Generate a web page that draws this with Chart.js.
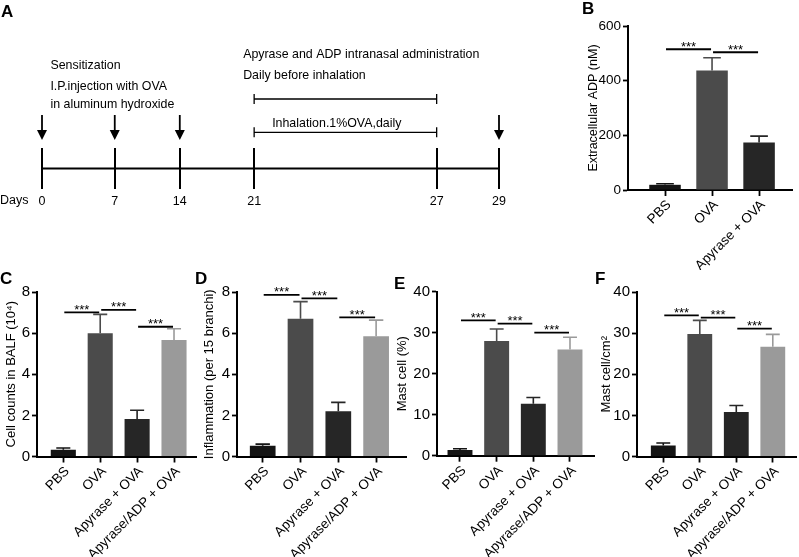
<!DOCTYPE html>
<html><head><meta charset="utf-8">
<script src="https://cdn.jsdelivr.net/npm/chart.js@4.4.1/dist/chart.umd.min.js"></script>
<style>
html,body{margin:0;padding:0;background:#fff;}
body{width:799px;height:557px;position:relative;overflow:hidden;font-family:"Liberation Sans",Arial,sans-serif;}
canvas{position:absolute;}
.lbl{position:absolute;font:bold 17px/17px "Liberation Sans",Arial,sans-serif;color:#000;}
</style></head><body>
<canvas id="cA" width="560" height="260" style="left:0;top:0"></canvas>
<canvas id="cB" width="217" height="270" style="left:582px;top:0"></canvas>
<canvas id="cC" width="197" height="289" style="left:0;top:268px"></canvas>
<canvas id="cD" width="209" height="289" style="left:198px;top:268px"></canvas>
<canvas id="cE" width="204" height="289" style="left:391px;top:268px"></canvas>
<canvas id="cF" width="202" height="289" style="left:595px;top:268px"></canvas>
<div class="lbl" style="left:1px;top:3px">A</div>
<div class="lbl" style="left:582px;top:0px">B</div>
<div class="lbl" style="left:0px;top:270px">C</div>
<div class="lbl" style="left:195px;top:270px">D</div>
<div class="lbl" style="left:394px;top:275px">E</div>
<div class="lbl" style="left:595px;top:270px">F</div>
<script>
// ---------------- data ----------------
const days = [0, 7, 14, 21, 27, 29];
const arrowDays = [0, 7, 14, 29];
const treatmentDays = [21, 27];

const groupsB = ['PBS', 'OVA', 'Apyrase + OVA'];
const adpMean = [19, 437, 174];
const adpSD = [4, 47, 23];

const groups = ['PBS', 'OVA', 'Apyrase + OVA', 'Apyrase/ADP + OVA'];
const balfMean = [0.33, 6.0, 1.82, 5.66];
const balfSD = [0.08, 0.91, 0.43, 0.55];
const inflMean = [0.52, 6.70, 2.20, 5.85];
const inflSD = [0.08, 0.83, 0.43, 0.78];
const mastPctMean = [1.4, 28.0, 12.7, 25.9];
const mastPctSD = [0.3, 2.9, 1.5, 3.0];
const mastDenMean = [2.7, 29.8, 10.8, 26.7];
const mastDenSD = [0.6, 3.3, 1.6, 3.0];

const sigPairsB = [[0, 1], [1, 2]];
const sigLevelsB = [515, 504];
const sigPairs = [[0, 1], [1, 2], [2, 3]];
const sigLevelsC = [7.01, 7.13, 6.31];
const sigLevelsD = [7.86, 7.69, 6.77];
const sigLevelsE = [33.0, 32.2, 30.0];
const sigLevelsF = [34.3, 33.75, 31.07];

// ---------------- styles ----------------
const FAM = '"Liberation Sans", Arial, sans-serif';
Chart.defaults.font.family = FAM;
Chart.defaults.color = '#000';
const colorsB = ['#141414', '#4b4b4b', '#262626'];
const colors4 = ['#141414', '#4b4b4b', '#262626', '#9a9a9a'];
// schematic (non-proportional) spacing of the timeline
const timelineFrac = [0, 0.1592, 0.3015, 0.4642, 0.8636, 1];

// ---------------- panel A: timeline ----------------
class PiecewiseScale extends Chart.LinearScale {
  static id = 'piecewise';
  static defaults = {};
  getPixelForValue(value) {
    let f;
    if (value <= days[0]) f = 0;
    else if (value >= days[days.length - 1]) f = 1;
    else {
      let i = 0;
      while (value > days[i + 1]) i++;
      const t = (value - days[i]) / (days[i + 1] - days[i]);
      f = timelineFrac[i] + t * (timelineFrac[i + 1] - timelineFrac[i]);
    }
    return this.getPixelForDecimal(f);
  }
  getValueForPixel(pixel) {
    const f = this.getDecimalForPixel(pixel);
    let i = 0;
    while (i < timelineFrac.length - 2 && f > timelineFrac[i + 1]) i++;
    const t = (f - timelineFrac[i]) / (timelineFrac[i + 1] - timelineFrac[i]);
    return days[i] + t * (days[i + 1] - days[i]);
  }
}
Chart.register(PiecewiseScale);

const timelinePlugin = {
  id: 'timelineDeco',
  afterDraw(chart) {
    const ctx = chart.ctx, xs = chart.scales.x, top = chart.chartArea.top;
    ctx.save();
    ctx.strokeStyle = '#000'; ctx.fillStyle = '#000';
    arrowDays.forEach(d => {
      const x = xs.getPixelForValue(d);
      const tip = top - 8;
      ctx.lineWidth = 1.8;
      ctx.beginPath(); ctx.moveTo(x, tip - 25); ctx.lineTo(x, tip - 6); ctx.stroke();
      ctx.beginPath(); ctx.moveTo(x - 5, tip - 10); ctx.lineTo(x + 5, tip - 10); ctx.lineTo(x, tip); ctx.closePath(); ctx.fill();
    });
    const x1 = xs.getPixelForValue(treatmentDays[0]), x2 = xs.getPixelForValue(treatmentDays[1]);
    ctx.lineWidth = 1.3;
    [top - 49, top - 15.7].forEach(y => {
      ctx.beginPath();
      ctx.moveTo(x1, y); ctx.lineTo(x2, y);
      ctx.moveTo(x1, y - 5); ctx.lineTo(x1, y + 5);
      ctx.moveTo(x2, y - 5); ctx.lineTo(x2, y + 5);
      ctx.stroke();
    });
    ctx.font = '12.4px ' + FAM; ctx.textBaseline = 'middle'; ctx.textAlign = 'left';
    const x0 = xs.getPixelForValue(days[0]);
    ctx.fillText('Sensitization', x0 + 8.4, 65.7);
    ctx.fillText('I.P.injection with OVA', x0 + 8.4, 86.7);
    ctx.fillText('in aluminum hydroxide', x0 + 8.4, 105);
    ctx.fillText('Apyrase and ADP intranasal administration', x1 - 11, 54.3);
    ctx.fillText('Daily before inhalation', x1 - 11, 75.3);
    ctx.fillText('Inhalation.1%OVA,daily', x1 + 18, 123.3);
    ctx.font = '12.5px ' + FAM;
    ctx.fillText('Days', 0, 200.5);
    ctx.restore();
  }
};

new Chart(document.getElementById('cA'), {
  type: 'line',
  data: { datasets: [{ data: days.map(d => ({ x: d, y: 0 })), borderColor: '#000', borderWidth: 2, pointRadius: 0 }] },
  options: {
    responsive: false, animation: false,
    layout: { padding: { left: 42, right: 61, top: 148, bottom: 0 } },
    plugins: { legend: { display: false }, tooltip: { enabled: false } },
    scales: {
      x: {
        type: 'piecewise', min: days[0], max: days[days.length - 1], offset: false,
        afterBuildTicks: s => { s.ticks = days.map(d => ({ value: d })); },
        afterFit: s => { s.height = 71; s.paddingLeft = 0; s.paddingRight = 0; },
        ticks: { callback: v => String(v), autoSkip: false, maxRotation: 0, minRotation: 0, font: { size: 12.5 }, color: '#000', padding: 5 },
        grid: { display: true, drawOnChartArea: true, drawTicks: false, color: '#000', lineWidth: 2 },
        border: { display: false }
      },
      y: { display: false, min: -1, max: 1 }
    }
  },
  plugins: [timelinePlugin]
});

// ---------------- bar panels ----------------
const errPlugin = {
  id: 'errbars',
  afterDatasetsDraw(chart) {
    const ctx = chart.ctx, ys = chart.scales.y;
    chart.data.datasets.forEach((ds, di) => {
      const meta = chart.getDatasetMeta(di);
      meta.data.forEach((bar, i) => {
        const v = ds.data[i].y, e = ds.sd[i];
        const yTop = ys.getPixelForValue(v + e);
        const cap = bar.width * 0.28;
        ctx.save();
        ctx.strokeStyle = ds.backgroundColor[i]; ctx.lineWidth = 1.6;
        ctx.beginPath();
        ctx.moveTo(bar.x, bar.y); ctx.lineTo(bar.x, yTop);
        ctx.moveTo(bar.x - cap, yTop); ctx.lineTo(bar.x + cap, yTop);
        ctx.stroke();
        ctx.restore();
      });
    });
  }
};

// nudges the rotated category labels so their ends sit just right of the tick
const labelNudge = {
  id: 'labelNudge',
  beforeDraw(chart) {
    const s = chart.scales.x;
    const items = s.getLabelItems(chart.chartArea);
    if (!items._nudged) {
      items.forEach(it => { it.options.translation[0] += 4; });
      items._nudged = true;
    }
  }
};

function makeSig(pairs, levels) {
  return {
    id: 'sig',
    afterDatasetsDraw(chart) {
      const xs = chart.scales.x, ys = chart.scales.y, ctx = chart.ctx;
      pairs.forEach(([a, b], k) => {
        const x1 = xs.getPixelForValue(a) + 1, x2 = xs.getPixelForValue(b) - 1, y = ys.getPixelForValue(levels[k]);
        ctx.save();
        ctx.strokeStyle = '#000'; ctx.lineWidth = 1.8;
        ctx.beginPath(); ctx.moveTo(x1, y); ctx.lineTo(x2, y); ctx.stroke();
        ctx.fillStyle = '#000'; ctx.font = '13px ' + FAM; ctx.textAlign = 'center'; ctx.textBaseline = 'alphabetic';
        ctx.fillText('***', (x1 + x2) / 2, y + 1.5);
        ctx.restore();
      });
    }
  };
}

function barPanel(id, c) {
  const yWidth = c.areaLeft - c.L, padTop = c.areaTop - c.T, xHeight = c.T + c.H - c.areaBottom, padRight = c.L + c.W - c.areaRight;
  return new Chart(document.getElementById(id), {
    type: 'bar',
    data: {
      datasets: [{
        data: c.values.map((v, i) => ({ x: i, y: v })),
        sd: c.sd,
        backgroundColor: c.colors, borderWidth: 0,
        barPercentage: c.barPct, categoryPercentage: 1
      }]
    },
    options: {
      responsive: false, animation: false,
      layout: { padding: { left: 0, top: padTop, right: padRight, bottom: 0 } },
      plugins: { legend: { display: false }, tooltip: { enabled: false } },
      scales: {
        x: {
          type: 'linear', min: c.xMin, max: c.xMax, offset: false,
          afterBuildTicks: s => { s.ticks = c.cats.map((_, i) => ({ value: i })); },
          afterFit: s => { s.height = xHeight; s.paddingLeft = 0; s.paddingRight = 0; },
          ticks: { callback: v => c.cats[v] ?? '', autoSkip: false, minRotation: 45, maxRotation: 45, color: '#000', font: { size: c.xFont }, padding: 1 },
          grid: { display: true, offset: false, drawOnChartArea: false, drawTicks: true, tickLength: 6, tickWidth: 1.8, tickColor: '#000' },
          border: { display: true, color: '#000', width: 2 }
        },
        y: {
          min: 0, max: c.yMax,
          afterFit: s => { s.width = yWidth; s.paddingTop = 0; s.paddingBottom = 0; },
          ticks: { stepSize: c.yStep, color: '#000', font: { size: c.yFont }, padding: 2 },
          grid: { display: true, drawOnChartArea: false, drawTicks: true, tickLength: 5, tickWidth: 1.8, tickColor: '#000' },
          border: { display: true, color: '#000', width: 2 },
          title: { display: true, text: c.title, color: '#000', font: { size: c.titleFont }, padding: { top: 4, bottom: 0 } }
        }
      }
    },
    plugins: [errPlugin, labelNudge, makeSig(c.sigPairs, c.sigLevels)]
  });
}

barPanel('cB', { L: 582, T: 0, W: 217, H: 270, areaLeft: 628, areaTop: 26, areaBottom: 190, areaRight: 792,
  cats: groupsB, values: adpMean, sd: adpSD, colors: colorsB, barPct: 0.67, xMin: -0.787, xMax: 2.70,
  yMax: 600, yStep: 200, xFont: 13.5, yFont: 13.5, titleFont: 12.5, title: 'Extracellular ADP (nM)',
  sigPairs: sigPairsB, sigLevels: sigLevelsB });

barPanel('cC', { L: 0, T: 268, W: 197, H: 289, areaLeft: 37, areaTop: 292, areaBottom: 456.5, areaRight: 197,
  cats: groups, values: balfMean, sd: balfSD, colors: colors4, barPct: 0.68, xMin: -0.713, xMax: 3.623,
  yMax: 8, yStep: 2, xFont: 13.5, yFont: 15, titleFont: 13, title: 'Cell counts in BALF (10\u2074)',
  sigPairs: sigPairs, sigLevels: sigLevelsC });

barPanel('cD', { L: 198, T: 268, W: 209, H: 289, areaLeft: 237, areaTop: 292, areaBottom: 456.5, areaRight: 407,
  cats: groups, values: inflMean, sd: inflSD, colors: colors4, barPct: 0.68, xMin: -0.68, xMax: 3.817,
  yMax: 8, yStep: 2, xFont: 13.5, yFont: 15, titleFont: 13, title: 'Inflammation (per 15 branchi)',
  sigPairs: sigPairs, sigLevels: sigLevelsD });

barPanel('cE', { L: 391, T: 268, W: 204, H: 289, areaLeft: 437, areaTop: 291.7, areaBottom: 455.7, areaRight: 595,
  cats: groups, values: mastPctMean, sd: mastPctSD, colors: colors4, barPct: 0.68, xMin: -0.627, xMax: 3.682,
  yMax: 40, yStep: 10, xFont: 13.5, yFont: 15, titleFont: 13, title: 'Mast cell (%)',
  sigPairs: sigPairs, sigLevels: sigLevelsE });

barPanel('cF', { L: 595, T: 268, W: 202, H: 289, areaLeft: 637, areaTop: 292, areaBottom: 456.5, areaRight: 797,
  cats: groups, values: mastDenMean, sd: mastDenSD, colors: colors4, barPct: 0.68, xMin: -0.72, xMax: 3.663,
  yMax: 40, yStep: 10, xFont: 13.5, yFont: 15, titleFont: 13, title: 'Mast cell/cm\u00b2',
  sigPairs: sigPairs, sigLevels: sigLevelsF });
</script>
</body></html>
